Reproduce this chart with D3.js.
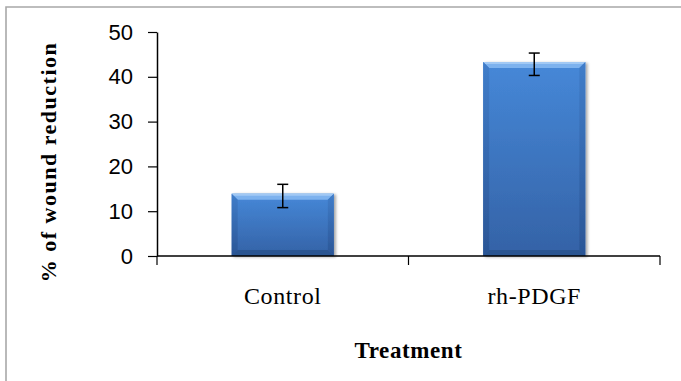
<!DOCTYPE html>
<html>
<head>
<meta charset="utf-8">
<script src="https://cdn.jsdelivr.net/npm/d3@7"></script>
<style>
  html, body { margin: 0; padding: 0; background: #fff; }
  svg { display: block; }
</style>
</head>
<body>
<svg id="chart" width="681" height="381"></svg>
<script>
// ---- data ----
const categories = ["Control", "rh-PDGF"];
const values = [13.9, 43.3];
const errPlus = [2.1, 2.0];
const errMinus = [3.1, 3.0];
const yTicks = [0, 10, 20, 30, 40, 50];
const yTitle = "% of wound reduction";
const xTitle = "Treatment";

(function () {
// ---- layout ----
const svg = d3.select("#chart");
const mLeft = 157, mRight = 660, mTop = 32, mBottom = 256;

// frame (cut off at right and bottom)
svg.append("path")
  .attr("d", `M6,400 L6,7 L700,7`)
  .attr("fill", "none")
  .attr("stroke", "#a8a8a8")
  .attr("stroke-width", 1.6);

const x = d3.scaleBand().domain(categories).range([mLeft, mRight])
  .paddingInner(0.594).paddingOuter(0.297);
const y = d3.scaleLinear().domain([0, 50]).range([mBottom, mTop]);

// defs: gradients
const defs = svg.append("defs");
const gMain = defs.append("linearGradient").attr("id", "gMain")
  .attr("x1", 0).attr("y1", 0).attr("x2", 0).attr("y2", 1);
gMain.append("stop").attr("offset", "0%").attr("stop-color", "#4688d8");
gMain.append("stop").attr("offset", "100%").attr("stop-color", "#3462a6");
const gSide = defs.append("linearGradient").attr("id", "gSide")
  .attr("x1", 0).attr("y1", 0).attr("x2", 0).attr("y2", 1);
gSide.append("stop").attr("offset", "0%").attr("stop-color", "#3f7cc8");
gSide.append("stop").attr("offset", "100%").attr("stop-color", "#2a5494");
const shadow = defs.append("filter").attr("id", "shadow")
  .attr("x", "-10%").attr("y", "-10%").attr("width", "130%").attr("height", "130%");
shadow.append("feGaussianBlur").attr("in", "SourceAlpha").attr("stdDeviation", 1.5).attr("result", "b");
shadow.append("feOffset").attr("in", "b").attr("dx", 1.5).attr("dy", 1).attr("result", "o");
shadow.append("feComponentTransfer").attr("in", "o").attr("result", "s")
  .append("feFuncA").attr("type", "linear").attr("slope", 0.35);
const merge = shadow.append("feMerge");
merge.append("feMergeNode").attr("in", "s");
merge.append("feMergeNode").attr("in", "SourceGraphic");

// bars
const bev = 6;
const bars = svg.append("g").selectAll("g").data(categories).join("g")
  .attr("filter", "url(#shadow)");
bars.each(function(c, i) {
  const g = d3.select(this);
  const x0 = x(c), x1 = x(c) + x.bandwidth();
  const y0 = y(values[i]), y1 = y(0);
  g.append("rect").attr("x", x0).attr("y", y0).attr("width", x1 - x0).attr("height", y1 - y0)
    .attr("fill", "url(#gMain)");
  g.append("path").attr("d", `M${x0},${y0} L${x1},${y0} L${x1 - bev},${y0 + bev} L${x0 + bev},${y0 + bev} Z`)
    .attr("fill", "#7db2ee");
  g.append("path").attr("d", `M${x0},${y0} L${x1},${y0} L${x1 - 2},${y0 + 2} L${x0 + 2},${y0 + 2} Z`)
    .attr("fill", "#a2c9f4");
  g.append("path").attr("d", `M${x0},${y0} L${x0 + bev},${y0 + bev} L${x0 + bev},${y1 - bev} L${x0},${y1} Z`)
    .attr("fill", "url(#gSide)").attr("opacity", 0.9);
  g.append("path").attr("d", `M${x1},${y0} L${x1 - bev},${y0 + bev} L${x1 - bev},${y1 - bev} L${x1},${y1} Z`)
    .attr("fill", "url(#gSide)").attr("opacity", 0.9);
  g.append("path").attr("d", `M${x0},${y1} L${x0 + bev},${y1 - bev} L${x1 - bev},${y1 - bev} L${x1},${y1} Z`)
    .attr("fill", "#2b5591");
});

// error bars
const eb = svg.append("g").attr("stroke", "#000").attr("stroke-width", 1.5).attr("fill", "none");
categories.forEach((c, i) => {
  const cx = x(c) + x.bandwidth() / 2;
  const yt = y(values[i] + errPlus[i]), yb = y(values[i] - errMinus[i]);
  eb.append("line").attr("x1", cx).attr("x2", cx).attr("y1", yt).attr("y2", yb);
  eb.append("line").attr("x1", cx - 5.5).attr("x2", cx + 5.5).attr("y1", yt).attr("y2", yt);
  eb.append("line").attr("x1", cx - 5.5).attr("x2", cx + 5.5).attr("y1", yb).attr("y2", yb);
});

// y axis
const yAxis = svg.append("g").attr("transform", `translate(${mLeft},0)`)
  .call(d3.axisLeft(y).tickValues(yTicks).tickSize(9).tickSizeOuter(0).tickPadding(15));
yAxis.select(".domain").attr("stroke", "#000").attr("stroke-width", 1.5);
yAxis.selectAll(".tick line").attr("stroke", "#000").attr("stroke-width", 1.2);
yAxis.selectAll("text").attr("font-family", "'Liberation Sans', Arial, sans-serif")
  .attr("font-size", 22).attr("fill", "#000");

// x axis
const xAxis = svg.append("g").attr("transform", `translate(0,${mBottom})`)
  .call(d3.axisBottom(x).tickSize(0).tickPadding(31));
xAxis.select(".domain").attr("stroke", "#000").attr("stroke-width", 1.5)
  .attr("d", `M${mLeft},0H${mRight}`);
xAxis.selectAll(".tick line").remove();
const xEdges = [mLeft, (mLeft + mRight) / 2, mRight];
xAxis.selectAll("line.sep").data(xEdges).join("line").attr("class", "sep")
  .attr("x1", d => d).attr("x2", d => d).attr("y1", 0).attr("y2", 9)
  .attr("stroke", "#000").attr("stroke-width", 1.2);
xAxis.selectAll(".tick text").attr("font-family", "'Liberation Serif', 'Times New Roman', serif")
  .attr("font-size", 24).attr("fill", "#000").attr("letter-spacing", 0.6);

// titles
svg.append("text").attr("x", (mLeft + mRight) / 2).attr("y", 358)
  .attr("text-anchor", "middle")
  .attr("font-family", "'Liberation Serif', 'Times New Roman', serif")
  .attr("font-weight", "bold").attr("font-size", 23).attr("letter-spacing", 0.6)
  .attr("fill", "#000").text(xTitle);

svg.append("text").attr("transform", `translate(56,${(42 + 282) / 2}) rotate(-90)`)
  .attr("text-anchor", "middle")
  .attr("font-family", "'Liberation Serif', 'Times New Roman', serif")
  .attr("font-weight", "bold").attr("font-size", 22).attr("letter-spacing", 1.5)
  .attr("fill", "#000").text(yTitle);
})();
</script>
</body>
</html>
